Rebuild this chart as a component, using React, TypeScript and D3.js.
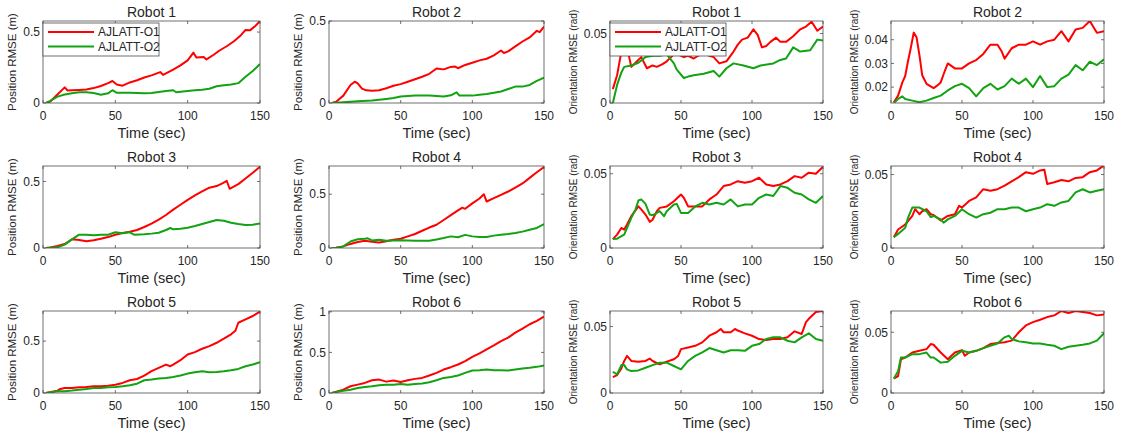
import * as d3 from "d3";

type Pt = [number, number];

// x axis (shared by all panels)
const timeDomain = [0, 150];
const timeTicks = [0, 50, 100, 150];
const seriesNames = ["AJLATT-O1", "AJLATT-O2"];

// ---- position RMSE (m), [time, value] ----
const robot1PosO1: Pt[] = [[2,0],[5,0.01],[10,0.06],[15,0.11],[17,0.088],[20,0.09],[25,0.092],[30,0.095],[35,0.105],[40,0.12],[45,0.14],[48,0.155],[51,0.13],[55,0.122],[60,0.145],[65,0.16],[70,0.18],[75,0.195],[81,0.218],[83,0.198],[90,0.235],[95,0.265],[100,0.3],[104,0.355],[106,0.32],[111,0.325],[113,0.307],[118,0.34],[122,0.37],[127,0.4],[132,0.435],[137,0.48],[140,0.515],[143,0.512],[147,0.545],[150,0.578]];
const robot1PosO2: Pt[] = [[2,0],[5,0.015],[10,0.045],[15,0.06],[20,0.068],[25,0.075],[30,0.075],[35,0.07],[40,0.058],[45,0.068],[48,0.09],[51,0.072],[55,0.072],[60,0.072],[65,0.07],[70,0.068],[75,0.07],[80,0.078],[85,0.085],[90,0.09],[92,0.076],[100,0.085],[105,0.09],[110,0.093],[115,0.1],[120,0.118],[125,0.125],[130,0.13],[135,0.14],[140,0.185],[145,0.225],[150,0.275]];
const robot2PosO1: Pt[] = [[2,0],[5,0.008],[10,0.045],[15,0.11],[18,0.13],[20,0.12],[23,0.088],[26,0.077],[30,0.075],[35,0.078],[40,0.09],[45,0.105],[50,0.115],[55,0.13],[60,0.145],[65,0.16],[70,0.178],[75,0.21],[80,0.205],[85,0.22],[88,0.222],[90,0.212],[95,0.232],[100,0.245],[105,0.26],[110,0.27],[115,0.29],[120,0.32],[122,0.305],[125,0.315],[130,0.345],[135,0.375],[140,0.4],[145,0.44],[147,0.432],[150,0.465]];
const robot2PosO2: Pt[] = [[2,0],[10,0.004],[20,0.01],[30,0.015],[40,0.025],[45,0.03],[50,0.04],[60,0.045],[70,0.045],[80,0.04],[85,0.047],[89,0.065],[91,0.045],[100,0.045],[105,0.05],[110,0.055],[115,0.062],[120,0.07],[125,0.085],[130,0.1],[135,0.1],[140,0.11],[145,0.135],[150,0.155]];
const robot3PosO1: Pt[] = [[2,0],[5,0.003],[10,0.015],[15,0.03],[20,0.065],[25,0.06],[30,0.05],[35,0.058],[40,0.07],[45,0.082],[50,0.1],[55,0.112],[60,0.122],[65,0.135],[70,0.158],[75,0.183],[80,0.213],[85,0.248],[90,0.288],[95,0.325],[100,0.362],[105,0.396],[110,0.425],[115,0.453],[120,0.465],[124,0.485],[127,0.505],[129,0.445],[135,0.48],[140,0.522],[145,0.565],[150,0.61]];
const robot3PosO2: Pt[] = [[2,0],[5,0.002],[10,0.005],[15,0.025],[20,0.065],[25,0.1],[30,0.1],[35,0.095],[40,0.1],[45,0.1],[50,0.118],[55,0.11],[60,0.118],[63,0.1],[70,0.103],[75,0.108],[80,0.115],[85,0.135],[88,0.15],[90,0.14],[95,0.145],[100,0.152],[105,0.165],[110,0.18],[115,0.195],[120,0.21],[125,0.205],[130,0.19],[135,0.18],[140,0.172],[145,0.175],[150,0.185]];
const robot4PosO1: Pt[] = [[2,0],[5,0.003],[10,0.015],[15,0.038],[20,0.055],[25,0.068],[30,0.058],[35,0.052],[40,0.062],[45,0.077],[50,0.086],[55,0.108],[60,0.13],[65,0.16],[70,0.19],[75,0.216],[80,0.26],[85,0.305],[90,0.35],[93,0.375],[95,0.364],[100,0.415],[105,0.46],[108,0.5],[110,0.432],[115,0.463],[120,0.494],[125,0.525],[130,0.562],[135,0.6],[140,0.652],[145,0.704],[150,0.752]];
const robot4PosO2: Pt[] = [[2,0],[5,0.002],[10,0.015],[15,0.06],[20,0.082],[25,0.086],[27,0.09],[30,0.07],[35,0.077],[40,0.068],[45,0.07],[50,0.072],[55,0.07],[60,0.068],[65,0.068],[70,0.068],[75,0.08],[80,0.093],[85,0.108],[90,0.1],[95,0.122],[100,0.108],[105,0.102],[110,0.102],[115,0.115],[120,0.123],[125,0.13],[130,0.139],[135,0.152],[140,0.17],[145,0.186],[150,0.222]];
const robot5PosO1: Pt[] = [[2,0],[10,0.023],[12,0.039],[15,0.048],[20,0.048],[25,0.055],[30,0.058],[35,0.065],[40,0.065],[45,0.071],[50,0.08],[55,0.097],[60,0.123],[65,0.135],[70,0.168],[75,0.21],[80,0.242],[85,0.274],[88,0.258],[90,0.274],[95,0.316],[100,0.371],[105,0.394],[110,0.426],[115,0.452],[120,0.484],[125,0.523],[130,0.565],[133,0.6],[135,0.677],[140,0.71],[145,0.742],[150,0.784]];
const robot5PosO2: Pt[] = [[2,0],[10,0.016],[15,0.016],[20,0.023],[25,0.032],[30,0.039],[35,0.048],[40,0.048],[45,0.055],[50,0.058],[55,0.065],[60,0.074],[65,0.09],[70,0.123],[75,0.129],[80,0.139],[85,0.145],[90,0.155],[95,0.168],[100,0.187],[105,0.2],[110,0.21],[115,0.2],[120,0.203],[125,0.21],[130,0.219],[135,0.232],[140,0.258],[145,0.274],[150,0.297]];
const robot6PosO1: Pt[] = [[2,0],[10,0.041],[15,0.083],[20,0.103],[25,0.124],[30,0.157],[35,0.165],[40,0.14],[45,0.153],[50,0.136],[55,0.157],[60,0.174],[65,0.186],[70,0.215],[75,0.248],[80,0.289],[85,0.318],[90,0.351],[95,0.393],[100,0.446],[105,0.488],[110,0.537],[115,0.587],[120,0.64],[125,0.682],[130,0.744],[135,0.793],[140,0.847],[145,0.888],[150,0.942]];
const robot6PosO2: Pt[] = [[2,0],[10,0.029],[15,0.041],[20,0.062],[25,0.074],[30,0.083],[35,0.095],[40,0.103],[45,0.103],[50,0.112],[55,0.103],[60,0.112],[65,0.116],[70,0.132],[75,0.157],[80,0.186],[85,0.198],[90,0.215],[95,0.248],[100,0.277],[105,0.281],[110,0.289],[115,0.281],[120,0.281],[125,0.277],[130,0.289],[135,0.302],[140,0.31],[145,0.322],[150,0.339]];

// ---- orientation RMSE (rad), [time, value] ----
const robot1OriO1: Pt[] = [[2,0.01],[5,0.02],[8,0.037],[10,0.042],[12,0.04],[15,0.026],[19,0.03],[22,0.033],[26,0.025],[30,0.027],[33,0.026],[37,0.028],[40,0.03],[43,0.033],[46,0.036],[52,0.033],[55,0.034],[59,0.032],[62,0.034],[66,0.036],[70,0.034],[73,0.033],[77,0.0285],[82,0.03],[87,0.037],[90,0.042],[93,0.0456],[97,0.047],[101,0.053],[104,0.049],[107,0.04],[110,0.041],[113,0.044],[117,0.047],[120,0.044],[124,0.044],[129,0.048],[134,0.053],[138,0.055],[142,0.0585],[146,0.052],[150,0.055]];
const robot1OriO2: Pt[] = [[2,0],[5,0.013],[8,0.022],[10,0.026],[15,0.027],[20,0.029],[25,0.033],[30,0.034],[35,0.034],[40,0.035],[45,0.0285],[47,0.024],[52,0.018],[55,0.019],[59,0.02],[66,0.021],[73,0.023],[77,0.019],[82,0.025],[87,0.0285],[94,0.027],[101,0.025],[106,0.027],[115,0.0285],[120,0.031],[124,0.032],[129,0.04],[134,0.037],[141,0.038],[146,0.0456],[150,0.045]];
const robot2OriO1: Pt[] = [[2,0.0136],[5,0.0164],[8,0.022],[10,0.0247],[12,0.031],[14,0.0367],[16,0.043],[18,0.041],[20,0.0336],[22,0.025],[25,0.0214],[30,0.0196],[32,0.0204],[35,0.022],[38,0.027],[40,0.03],[45,0.0279],[50,0.0279],[55,0.03],[60,0.0314],[65,0.034],[70,0.0379],[75,0.0379],[78,0.035],[80,0.032],[85,0.0364],[90,0.0379],[95,0.0379],[100,0.0393],[105,0.0379],[110,0.0393],[115,0.04],[120,0.0436],[125,0.0393],[130,0.0443],[135,0.045],[140,0.0479],[145,0.0429],[150,0.0436]];
const robot2OriO2: Pt[] = [[2,0.0133],[5,0.015],[8,0.0161],[10,0.015],[15,0.0143],[20,0.0136],[25,0.0143],[30,0.0154],[35,0.0164],[40,0.0186],[45,0.0204],[50,0.0214],[55,0.0196],[60,0.0161],[65,0.0196],[70,0.0214],[75,0.019],[80,0.0204],[85,0.0236],[90,0.0214],[95,0.0236],[100,0.02],[105,0.0247],[110,0.02],[115,0.0204],[120,0.0236],[125,0.0253],[130,0.0293],[135,0.0271],[140,0.0307],[145,0.0293],[150,0.0317]];
const robot3OriO1: Pt[] = [[2,0.006],[5,0.009],[8,0.0135],[10,0.0124],[12,0.0158],[15,0.0214],[20,0.028],[22,0.026],[25,0.0225],[28,0.0176],[30,0.019],[33,0.0248],[35,0.027],[40,0.028],[45,0.0315],[50,0.036],[52,0.0338],[55,0.028],[60,0.028],[65,0.028],[70,0.0327],[75,0.036],[80,0.0417],[85,0.0428],[90,0.045],[95,0.0439],[100,0.045],[105,0.0473],[110,0.0428],[115,0.0417],[120,0.0428],[125,0.045],[130,0.0484],[135,0.0473],[140,0.0507],[145,0.05],[150,0.0547]];
const robot3OriO2: Pt[] = [[2,0.006],[5,0.0063],[10,0.009],[15,0.0203],[18,0.026],[20,0.032],[22,0.0327],[25,0.0297],[28,0.0225],[30,0.022],[35,0.0248],[38,0.0214],[40,0.0248],[45,0.0293],[47,0.0297],[50,0.0236],[55,0.0236],[60,0.028],[65,0.0304],[70,0.0293],[75,0.0304],[80,0.0293],[85,0.0327],[90,0.028],[95,0.0293],[100,0.0293],[105,0.0338],[110,0.036],[115,0.035],[120,0.0417],[125,0.0405],[130,0.0372],[135,0.036],[140,0.0327],[145,0.0304],[150,0.035]];
const robot4OriO1: Pt[] = [[2,0.0073],[5,0.0126],[10,0.016],[15,0.0218],[17,0.0264],[20,0.023],[22,0.025],[25,0.0264],[28,0.023],[30,0.0225],[35,0.0188],[40,0.0218],[45,0.023],[48,0.0287],[50,0.0275],[55,0.032],[60,0.0344],[65,0.04],[70,0.039],[75,0.04],[80,0.0424],[85,0.0454],[90,0.0482],[95,0.0516],[100,0.0505],[105,0.0528],[108,0.0532],[110,0.0436],[115,0.0447],[120,0.0463],[125,0.0454],[130,0.0477],[135,0.0482],[140,0.0516],[145,0.0528],[150,0.0562]];
const robot4OriO2: Pt[] = [[2,0.0073],[5,0.0096],[10,0.0138],[12,0.0206],[15,0.0275],[20,0.0275],[25,0.025],[28,0.021],[30,0.0218],[35,0.0195],[37,0.0172],[40,0.0195],[45,0.0218],[50,0.0264],[55,0.023],[60,0.0206],[65,0.023],[70,0.024],[75,0.0264],[80,0.0264],[85,0.0275],[90,0.0275],[95,0.025],[100,0.0264],[105,0.0275],[110,0.0298],[115,0.0287],[120,0.031],[125,0.032],[130,0.0378],[135,0.04],[140,0.0378],[145,0.039],[150,0.04]];
const robot5OriO1: Pt[] = [[2,0.0119],[5,0.0135],[8,0.0185],[10,0.0241],[12,0.0279],[15,0.0241],[20,0.0236],[25,0.0241],[28,0.0259],[30,0.0241],[35,0.0216],[40,0.0236],[45,0.0254],[48,0.0279],[50,0.033],[55,0.0343],[60,0.0355],[65,0.0381],[70,0.0431],[75,0.0457],[78,0.0482],[80,0.0457],[85,0.0457],[88,0.0482],[90,0.047],[95,0.0449],[100,0.0431],[105,0.0406],[110,0.0398],[115,0.0406],[120,0.0406],[125,0.0419],[130,0.0464],[135,0.0444],[138,0.0533],[140,0.0558],[145,0.0609],[150,0.0617]];
const robot5OriO2: Pt[] = [[2,0.016],[5,0.014],[8,0.021],[10,0.021],[12,0.0178],[15,0.0165],[20,0.017],[25,0.019],[30,0.021],[35,0.0228],[40,0.0228],[45,0.0203],[50,0.0178],[55,0.0241],[60,0.0279],[65,0.0305],[70,0.0338],[75,0.0322],[80,0.0305],[85,0.0322],[90,0.0322],[95,0.0317],[100,0.0355],[105,0.0368],[110,0.0406],[115,0.0419],[120,0.0419],[125,0.0393],[130,0.0381],[135,0.0419],[140,0.0449],[145,0.0406],[150,0.0393]];
const robot6OriO1: Pt[] = [[2,0.0119],[5,0.0139],[7,0.0278],[10,0.0292],[15,0.0333],[20,0.0347],[25,0.0361],[28,0.0403],[30,0.0397],[35,0.0333],[40,0.0278],[45,0.0333],[50,0.0353],[52,0.0306],[55,0.0333],[60,0.0347],[65,0.0369],[70,0.0403],[75,0.0411],[80,0.0417],[85,0.0431],[90,0.05],[95,0.0556],[100,0.0583],[105,0.0603],[110,0.0625],[115,0.0639],[120,0.0675],[125,0.0658],[130,0.0675],[135,0.0667],[140,0.0658],[145,0.0639],[150,0.0647]];
const robot6OriO2: Pt[] = [[2,0.0119],[5,0.018],[7,0.0292],[10,0.0292],[15,0.032],[20,0.032],[25,0.0333],[28,0.0292],[30,0.0292],[35,0.025],[40,0.0258],[45,0.0306],[50,0.0347],[55,0.0333],[60,0.0347],[65,0.0369],[70,0.0389],[75,0.0408],[80,0.0458],[83,0.0472],[85,0.0444],[90,0.0425],[95,0.0417],[100,0.0408],[105,0.0408],[110,0.0397],[115,0.0389],[120,0.0361],[125,0.0381],[130,0.0389],[135,0.0397],[140,0.0408],[145,0.0431],[150,0.0492]];

// y limits and ticks per panel, row by row
const yLimits = [
  [0, 0.578], [0, 0.5], [0, 0.059], [0.0133, 0.0479],
  [0, 0.616], [0, 0.762], [0, 0.0552], [0, 0.0558],
  [0, 0.79], [0, 1.01], [0, 0.0617], [0, 0.0675],
];
const yTicks = [
  [0, 0.5], [0, 0.5], [0, 0.05], [0.02, 0.03, 0.04],
  [0, 0.5], [0, 0.5], [0, 0.05], [0, 0.05],
  [0, 0.5], [0, 0.5, 1], [0, 0.05], [0, 0.05],
];
const titles = [
  "Robot 1", "Robot 2", "Robot 1", "Robot 2",
  "Robot 3", "Robot 4", "Robot 3", "Robot 4",
  "Robot 5", "Robot 6", "Robot 5", "Robot 6",
];
const seriesO1 = [robot1PosO1, robot2PosO1, robot1OriO1, robot2OriO1, robot3PosO1, robot4PosO1, robot3OriO1, robot4OriO1, robot5PosO1, robot6PosO1, robot5OriO1, robot6OriO1];
const seriesO2 = [robot1PosO2, robot2PosO2, robot1OriO2, robot2OriO2, robot3PosO2, robot4PosO2, robot3OriO2, robot4OriO2, robot5PosO2, robot6PosO2, robot5OriO2, robot6OriO2];

const W = 1125;
const H = 439;
const colLeft = [43, 329, 610, 891];
const colWidth = [217, 215, 213, 213];
const rowTop = [21, 166, 311];
const plotH = 82;
const FONT = "'Liberation Sans', Arial, sans-serif";
const TXT = "#262626";
const RED = "#ff0000";
const GREEN = "#12a312";
const fmt = d3.format("~g");

function Panel({ idx }: { idx: number }) {
  const col = idx % 4;
  const row = Math.floor(idx / 4);
  const left = colLeft[col];
  const top = rowTop[row];
  const w = colWidth[col];
  const isOri = col >= 2;

  const x = d3.scaleLinear().domain(timeDomain).range([0, w]);
  const y = d3.scaleLinear().domain(yLimits[idx]).range([plotH, 0]);
  const line = d3
    .line<Pt>()
    .x((d) => x(d[0]))
    .y((d) => y(d[1]));
  const clipId = `clip-${idx}`;
  const showLegend = idx === 0 || idx === 2;

  return (
    <g transform={`translate(${left},${top})`}>
      <defs>
        <clipPath id={clipId}>
          <rect x={0} y={0} width={w} height={plotH} />
        </clipPath>
      </defs>
      <rect x={0} y={0} width={w} height={plotH} fill="#fff" />
      <g clipPath={`url(#${clipId})`} fill="none" strokeWidth={2} strokeLinejoin="round">
        <path d={line(seriesO1[idx]) || ""} stroke={RED} />
        <path d={line(seriesO2[idx]) || ""} stroke={GREEN} />
      </g>
      {/* box + inward ticks */}
      <rect x={0} y={0} width={w} height={plotH} fill="none" stroke="#4d4d4d" strokeWidth={0.8} />
      {timeTicks.map((t) => (
        <g key={`xt${t}`} stroke="#4d4d4d" strokeWidth={0.8}>
          <line x1={x(t)} x2={x(t)} y1={plotH} y2={plotH - 3} />
          <line x1={x(t)} x2={x(t)} y1={0} y2={3} />
        </g>
      ))}
      {yTicks[idx].map((v) => (
        <g key={`yt${v}`} stroke="#4d4d4d" strokeWidth={0.8}>
          <line x1={0} x2={3} y1={y(v)} y2={y(v)} />
          <line x1={w} x2={w - 3} y1={y(v)} y2={y(v)} />
        </g>
      ))}
      <g fontFamily={FONT} fill={TXT}>
        {timeTicks.map((t) => (
          <text key={`xl${t}`} x={x(t)} y={plotH + 17} fontSize={12} textAnchor="middle">
            {t}
          </text>
        ))}
        {yTicks[idx].map((v) => (
          <text key={`yl${v}`} x={-3} y={y(v) + 4.3} fontSize={12} textAnchor="end">
            {fmt(v)}
          </text>
        ))}
        <text x={w / 2} y={plotH + 35} fontSize={14.5} textAnchor="middle">
          Time (sec)
        </text>
        <text x={w / 2} y={-4} fontSize={14} textAnchor="middle">
          {titles[idx]}
        </text>
        <text
          transform={`translate(${isOri ? -33 : -27},${plotH / 2}) rotate(-90)`}
          fontSize={isOri ? 10 : 11.5}
          textAnchor="middle"
        >
          {isOri ? "Orientation RMSE (rad)" : "Position RMSE (m)"}
        </text>
      </g>
      {showLegend && (
        <g transform="translate(0,2)">
          <rect x={0} y={0} width={116} height={33} fill="#fff" stroke="#4d4d4d" strokeWidth={0.8} />
          {seriesNames.map((name, i) => (
            <g key={name} transform={`translate(0,${9 + i * 14.5})`}>
              <line x1={5} x2={51} y1={0} y2={0} stroke={i === 0 ? RED : GREEN} strokeWidth={2} />
              <text x={55} y={4.2} fontSize={12} fontFamily={FONT} fill={TXT}>
                {name}
              </text>
            </g>
          ))}
        </g>
      )}
    </g>
  );
}

export default function App() {
  return (
    <svg
      width={W}
      height={H}
      viewBox={`0 0 ${W} ${H}`}
      style={{ position: "absolute", left: 0, top: 0, background: "#fff" }}
    >
      <rect width={W} height={H} fill="#fff" />
      {titles.map((_, i) => (
        <Panel key={i} idx={i} />
      ))}
    </svg>
  );
}
